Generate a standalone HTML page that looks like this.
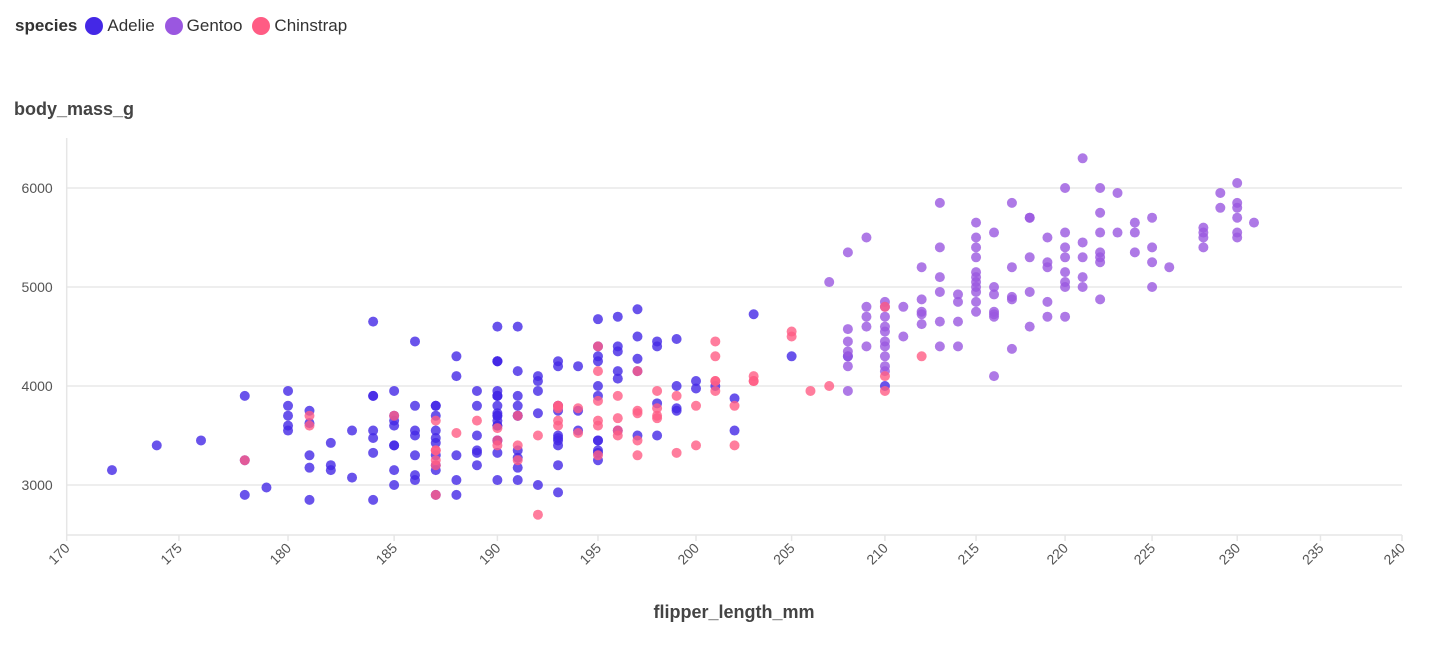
<!DOCTYPE html>
<html><head><meta charset="utf-8"><style>
body{margin:0;background:#fff;font-family:"Liberation Sans",sans-serif;}
#wrap{position:relative;width:1432px;height:650px;overflow:hidden;}
.leg{position:absolute;top:16px;left:15px;font-size:17px;color:#333;display:flex;align-items:center;}
.leg b{margin-right:8px;color:#333}
.dot{display:inline-block;width:18px;height:18px;border-radius:50%;margin-right:4px}
.it{display:flex;align-items:center;margin-right:10px}
</style></head><body>
<div id="wrap">
<div class="leg"><b>species</b>
<span class="it"><span class="dot" style="background:#4428e6"></span>Adelie</span>
<span class="it"><span class="dot" style="background:#9a57e0"></span>Gentoo</span>
<span class="it"><span class="dot" style="background:#ff5c84"></span>Chinstrap</span>
</div>
<svg id="svg" width="1432" height="650" style="position:absolute;left:0;top:0"></svg>
</div>
<script>
const xTicks=[170,175,180,185,190,195,200,205,210,215,220,225,230,235,240];
const yTicks=[3000,4000,5000,6000];
const adelie=[[181,3750],[186,3800],[195,3250],[193,3450],[190,3650],[181,3625],[195,4675],[193,3475],[190,4250],[186,3300],[180,3700],[182,3200],[191,3800],[198,4400],[185,3700],[195,3450],[197,4500],[184,3325],[194,4200],[174,3400],[180,3600],[189,3800],[185,3950],[180,3800],[187,3800],[183,3550],[187,3200],[172,3150],[180,3950],[178,3250],[178,3900],[188,3300],[184,3900],[195,3325],[196,4150],[190,3950],[180,3550],[181,3300],[184,4650],[182,3150],[195,3900],[186,3100],[196,4400],[185,3000],[190,4600],[182,3425],[179,2975],[190,3450],[191,4150],[186,3500],[188,4300],[190,3450],[200,4050],[187,2900],[191,3700],[186,3550],[193,3800],[181,2850],[194,3750],[185,3150],[195,4400],[185,3600],[192,4050],[184,2850],[192,3950],[195,3350],[188,4100],[190,3050],[198,4450],[190,3600],[190,3900],[196,3550],[197,4150],[190,3700],[195,4250],[191,3700],[184,3900],[187,3550],[195,4000],[189,3200],[196,4700],[187,3800],[193,4200],[191,3350],[194,3550],[190,3800],[189,3500],[189,3950],[190,3600],[202,3550],[205,4300],[185,3400],[186,4450],[187,3300],[208,4300],[190,3700],[196,4350],[178,2900],[192,4100],[192,3725],[203,4725],[183,3075],[190,4250],[193,2925],[184,3550],[199,3750],[190,3900],[181,3175],[197,4775],[198,3825],[191,4600],[193,3200],[197,4275],[191,3900],[196,4075],[188,2900],[199,3775],[189,3350],[189,3325],[187,3150],[198,3500],[176,3450],[202,3875],[186,3050],[199,4000],[191,3275],[195,4300],[191,3050],[210,4000],[190,3325],[197,3500],[193,3500],[199,4475],[187,3425],[190,3900],[191,3175],[200,3975],[185,3400],[193,4250],[193,3400],[187,3475],[188,3050],[190,3725],[192,3000],[185,3650],[190,4250],[184,3475],[195,3450],[193,3750],[187,3700],[201,4000]];
const gentoo=[[207,5050],[208,5350],[208,4575],[208,4450],[208,4300],[208,4350],[208,4200],[208,3950],[209,5500],[209,4800],[209,4700],[209,4600],[209,4400],[210,4850],[210,4800],[210,4700],[210,4600],[210,4550],[210,4450],[210,4400],[210,4300],[210,4200],[210,4150],[211,4800],[211,4500],[212,5200],[212,4875],[212,4750],[212,4725],[212,4625],[213,5850],[213,5400],[213,5100],[213,4950],[213,4650],[213,4400],[214,4925],[214,4850],[214,4650],[214,4400],[215,5650],[215,5500],[215,5400],[215,5300],[215,5150],[215,5100],[215,5050],[215,5000],[215,4950],[215,4850],[215,4750],[216,5550],[216,5000],[216,4925],[216,4750],[216,4725],[216,4700],[216,4100],[217,5850],[217,5200],[217,4900],[217,4875],[217,4375],[218,5700],[218,5700],[218,5300],[218,4950],[218,4600],[219,5500],[219,5250],[219,5200],[219,4850],[219,4700],[220,6000],[220,5550],[220,5400],[220,5300],[220,5150],[220,5050],[220,5000],[220,4700],[221,6300],[221,5450],[221,5300],[221,5100],[221,5000],[222,6000],[222,5750],[222,5550],[222,5350],[222,5300],[222,5250],[222,4875],[223,5950],[223,5550],[224,5650],[224,5550],[224,5350],[225,5700],[225,5400],[225,5250],[225,5000],[226,5200],[228,5600],[228,5550],[228,5500],[228,5400],[229,5950],[229,5800],[230,6050],[230,5850],[230,5800],[230,5700],[230,5550],[230,5500],[231,5650]];
const chinstrap=[[192,3500],[196,3900],[193,3650],[188,3525],[197,3725],[198,3950],[178,3250],[197,3750],[195,4150],[198,3700],[193,3800],[194,3775],[185,3700],[201,4050],[190,3575],[201,4050],[197,3300],[181,3700],[190,3450],[195,4400],[181,3600],[191,3400],[187,2900],[193,3800],[195,3300],[197,4150],[200,3400],[200,3800],[191,3700],[205,4550],[187,3200],[201,4300],[187,3350],[203,4100],[195,3600],[199,3900],[195,3850],[210,4800],[192,2700],[205,4500],[210,3950],[187,3650],[196,3550],[196,3500],[196,3675],[201,4450],[190,3400],[212,4300],[187,3250],[198,3675],[199,3325],[201,3950],[193,3600],[203,4050],[187,3350],[197,3450],[191,3250],[203,4050],[202,3800],[194,3525],[206,3950],[189,3650],[195,3650],[207,4000],[202,3400],[193,3775],[210,4100],[198,3775]];
const NS='http://www.w3.org/2000/svg';
const svg=document.getElementById('svg');
const X0=66.7,X1=1402,YT=138,YB=535,XMIN=170,XMAX=240;
function sx(v){return X0+Math.log(v/XMIN)/Math.log(XMAX/XMIN)*(X1-X0);}
function sy(v){return 485-(v-3000)*0.099;}
function mk(tag,at,txt){const e=document.createElementNS(NS,tag);for(const k in at)e.setAttribute(k,at[k]);if(txt!=null)e.textContent=txt;svg.appendChild(e);return e;}
yTicks.forEach(t=>{
 const g=mk('line',{x1:X0,x2:X1,y1:sy(t),y2:sy(t),stroke:'#e8e8e8','stroke-width':1.5});
 
 
 const l=mk('text',{x:X0-14,y:sy(t)+5,'text-anchor':'end','font-size':14,fill:'#555','font-family':'Liberation Sans'},t);
 
 
});
const ax=mk('line',{x1:X0,x2:X0,y1:YT,y2:YB,stroke:'#e6e6e6','stroke-width':1.5});


const bx=mk('line',{x1:X0,x2:X1,y1:YB,y2:YB,stroke:'#e6e6e6','stroke-width':1.5});


xTicks.forEach(t=>{
 const x=sx(t);
 const tk=mk('line',{x1:x,x2:x,y1:YB,y2:YB+6,stroke:'#e6e6e6','stroke-width':1.5});
 
 
 const l=mk('text',{x:x+4,y:YB+14,'text-anchor':'end','font-size':14,fill:'#555','font-family':'Liberation Sans',transform:`rotate(-45 ${x+4} ${YB+14})`},t);
 
 
});
function draw(arr,col,name){arr.forEach(p=>{
 const c=mk('circle',{cx:sx(p[0]),cy:sy(p[1]),r:5,fill:col,'fill-opacity':0.8});
 
 
});}
draw(adelie,'#4428e6','point-adelie');
draw(gentoo,'#9a57e0','point-gentoo');
draw(chinstrap,'#ff5c84','point-chinstrap');
const yt=mk('text',{x:14,y:115,'font-size':18,'font-weight':'bold',fill:'#444','font-family':'Liberation Sans'},'body_mass_g');


const xt=mk('text',{x:734,y:618,'text-anchor':'middle','font-size':18,'font-weight':'bold',fill:'#444','font-family':'Liberation Sans'},'flipper_length_mm');


</script>
</body></html>
